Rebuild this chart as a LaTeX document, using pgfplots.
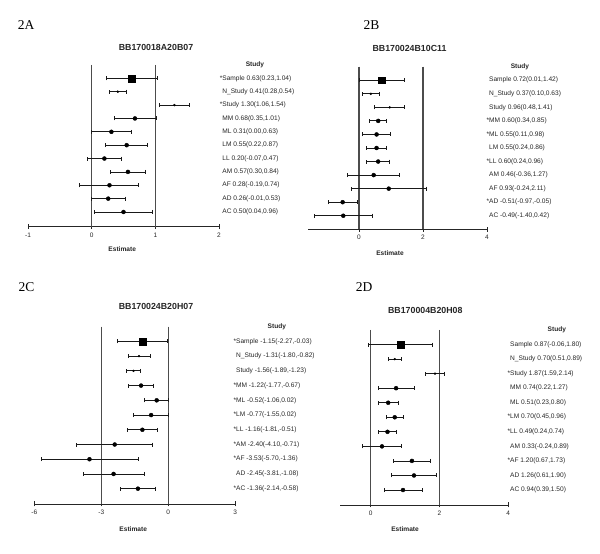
\documentclass[border=0pt]{standalone}
\usepackage{fontspec}
\setmainfont{Liberation Sans}
\newfontfamily\serifpanel{Liberation Serif}
\usepackage{pgfplots}
\usepackage{pgfplotstable}
\pgfplotsset{compat=1.18}

\newcommand\lab{\fontsize{6.6}{7.5}\selectfont}
\newcommand\ticklab{\fontsize{6.5}{7.5}\selectfont}
\newcommand\ttl{\fontsize{8.8}{10}\selectfont\bfseries}
\newcommand\pan{\serifpanel\fontsize{13.5}{15}\selectfont}

\pgfplotstableread{
row est lo hi
-1 0.63 0.23 1.04
-2 0.41 0.28 0.54
-3 1.30 1.06 1.54
-4 0.68 0.35 1.01
-5 0.31 0.00 0.63
-6 0.55 0.22 0.87
-7 0.20 -0.07 0.47
-8 0.57 0.30 0.84
-9 0.28 -0.19 0.74
-10 0.26 -0.01 0.53
-11 0.50 0.04 0.96
}\tA
\pgfplotstableread{
row est lo hi
-1 0.72 0.01 1.42
-2 0.37 0.10 0.63
-3 0.96 0.48 1.41
-4 0.60 0.34 0.85
-5 0.55 0.11 0.98
-6 0.55 0.24 0.86
-7 0.60 0.24 0.96
-8 0.46 -0.36 1.27
-9 0.93 -0.24 2.11
-10 -0.51 -0.97 -0.05
-11 -0.49 -1.40 0.42
}\tB
\pgfplotstableread{
row est lo hi
-1 -1.15 -2.27 -0.03
-2 -1.31 -1.80 -0.82
-3 -1.56 -1.89 -1.23
-4 -1.22 -1.77 -0.67
-5 -0.52 -1.06 0.02
-6 -0.77 -1.55 0.02
-7 -1.16 -1.81 -0.51
-8 -2.40 -4.10 -0.71
-9 -3.53 -5.70 -1.36
-10 -2.45 -3.81 -1.08
-11 -1.36 -2.14 -0.58
}\tC
\pgfplotstableread{
row est lo hi
-1 0.87 -0.06 1.80
-2 0.70 0.51 0.89
-3 1.87 1.59 2.14
-4 0.74 0.22 1.27
-5 0.51 0.23 0.80
-6 0.70 0.45 0.96
-7 0.49 0.24 0.74
-8 0.33 -0.24 0.89
-9 1.20 0.67 1.73
-10 1.26 0.61 1.90
-11 0.94 0.39 1.50
}\tD

\pgfplotsset{
  forest/.style={scale only axis, anchor=north west, clip=false,
    axis x line*=bottom, axis y line=none,
    x axis line style={-, line width=0.9pt, black!85},
    tick align=center, major tick length=5pt,
    xtick style={line width=0.8pt, black!85},
    ytick=\empty,
    xticklabel style={font=\ticklab, text=black!85},
    /pgf/number format/assume math mode=true, ymax=0},
  est/.style={only marks, black, mark=*, mark size=2pt,
    error bars/x dir=both, error bars/x explicit,
    error bars/error bar style={line width=0.8pt, black!90},
    error bars/error mark options={line width=0.8pt, mark size=2pt, black!90, rotate=90}},
  refl/.style={no marks, line width=1.1pt, black!70},
}
\tikzset{
  lab/.style={anchor=west, font=\lab, text=black!85, inner sep=0pt},
  hdr/.style={font=\lab\bfseries, text=black!85, inner sep=0pt},
}
\newcommand\forestplots[1]{%
  \addplot[est, mark=square*, mark size=3.4pt, restrict y to domain=-1.5:-0.5]
    table[x=est, y=row, x error plus expr=\thisrow{hi}-\thisrow{est}, x error minus expr=\thisrow{est}-\thisrow{lo}]{#1};
  \addplot[est, mark size=1pt, restrict y to domain=-3.5:-1.5]
    table[x=est, y=row, x error plus expr=\thisrow{hi}-\thisrow{est}, x error minus expr=\thisrow{est}-\thisrow{lo}]{#1};
  \addplot[est, restrict y to domain=-11.5:-3.5]
    table[x=est, y=row, x error plus expr=\thisrow{hi}-\thisrow{est}, x error minus expr=\thisrow{est}-\thisrow{lo}]{#1};
}

\begin{document}
\begin{tikzpicture}[x=1pt,y=1pt]
\useasboundingbox (0,0) rectangle (600,554);

% ---------- Panel A ----------
\node[font=\pan] at (26,529) {2A};
\node[font=\ttl, text=black!85] at (156,507) {BB170018A20B07};
\begin{axis}[forest, at={(28pt,489pt)}, width=191pt, height=161.7pt,
  xmin=-1, xmax=2, ymin=-12.1, xtick={-1,0,1,2}]
  \addplot[refl] coordinates {(0,0) (0,-12.1)};
  \addplot[refl] coordinates {(1,0) (1,-12.1)};
  \forestplots{\tA}
  \node[hdr] at (axis cs:2.565,0) {Study};
  \node[lab] at (axis cs:2.05,-1) {\llap{*}Sample 0.63(0.23,1.04)};
  \node[lab] at (axis cs:2.05,-2) {N\_Study 0.41(0.28,0.54)};
  \node[lab] at (axis cs:2.05,-3) {\llap{*}Study 1.30(1.06,1.54)};
  \node[lab] at (axis cs:2.05,-4) {MM 0.68(0.35,1.01)};
  \node[lab] at (axis cs:2.05,-5) {ML 0.31(0.00,0.63)};
  \node[lab] at (axis cs:2.05,-6) {LM 0.55(0.22,0.87)};
  \node[lab] at (axis cs:2.05,-7) {LL 0.20(-0.07,0.47)};
  \node[lab] at (axis cs:2.05,-8) {AM 0.57(0.30,0.84)};
  \node[lab] at (axis cs:2.05,-9) {AF 0.28(-0.19,0.74)};
  \node[lab] at (axis cs:2.05,-10) {AD 0.26(-0.01,0.53)};
  \node[lab] at (axis cs:2.05,-11) {AC 0.50(0.04,0.96)};
  \node[font=\lab\bfseries, text=black!85, yshift=-22pt] at (axis cs:0.48,-12.1) {Estimate};
\end{axis}

% ---------- Panel B ----------
\node[font=\pan] at (371.5,529) {2B};
\node[font=\ttl, text=black!85] at (409.5,505.7) {BB170024B10C11};
\begin{axis}[forest, at={(308.4pt,487.3pt)}, width=178.6pt, height=162.6pt,
  xmin=-1.58, xmax=4, ymin=-12, xtick={0,2,4}]
  \addplot[refl] coordinates {(0,0) (0,-12)};
  \addplot[refl] coordinates {(2,0) (2,-12)};
  \forestplots{\tB}
  \node[hdr] at (axis cs:5.03,0) {Study};
  \node[lab] at (axis cs:4.06,-1) {Sample 0.72(0.01,1.42)};
  \node[lab] at (axis cs:4.06,-2) {N\_Study 0.37(0.10,0.63)};
  \node[lab] at (axis cs:4.06,-3) {Study 0.96(0.48,1.41)};
  \node[lab] at (axis cs:4.06,-4) {\llap{*}MM 0.60(0.34,0.85)};
  \node[lab] at (axis cs:4.06,-5) {\llap{*}ML 0.55(0.11,0.98)};
  \node[lab] at (axis cs:4.06,-6) {LM 0.55(0.24,0.86)};
  \node[lab] at (axis cs:4.06,-7) {\llap{*}LL 0.60(0.24,0.96)};
  \node[lab] at (axis cs:4.06,-8) {AM 0.46(-0.36,1.27)};
  \node[lab] at (axis cs:4.06,-9) {AF 0.93(-0.24,2.11)};
  \node[lab] at (axis cs:4.06,-10) {\llap{*}AD -0.51(-0.97,-0.05)};
  \node[lab] at (axis cs:4.06,-11) {AC -0.49(-1.40,0.42)};
  \node[font=\lab\bfseries, text=black!85, yshift=-23.4pt] at (axis cs:0.97,-12) {Estimate};
\end{axis}

% ---------- Panel C ----------
\node[font=\pan] at (26.5,266.7) {2C};
\node[font=\ttl, text=black!85] at (156,247.3) {BB170024B20H07};
\begin{axis}[forest, at={(34.3pt,227.3pt)}, width=201pt, height=177.3pt,
  xmin=-6, xmax=3, ymin=-12.04, xtick={-6,-3,0,3}]
  \addplot[refl] coordinates {(-3,0) (-3,-12.04)};
  \addplot[refl] coordinates {(0,0) (0,-12.04)};
  \forestplots{\tC}
  \node[hdr] at (axis cs:4.86,0) {Study};
  \node[lab] at (axis cs:3.03,-1) {\llap{*}Sample -1.15(-2.27,-0.03)};
  \node[lab] at (axis cs:3.03,-2) {N\_Study -1.31(-1.80,-0.82)};
  \node[lab] at (axis cs:3.03,-3) {Study -1.56(-1.89,-1.23)};
  \node[lab] at (axis cs:3.03,-4) {\llap{*}MM -1.22(-1.77,-0.67)};
  \node[lab] at (axis cs:3.03,-5) {\llap{*}ML -0.52(-1.06,0.02)};
  \node[lab] at (axis cs:3.03,-6) {\llap{*}LM -0.77(-1.55,0.02)};
  \node[lab] at (axis cs:3.03,-7) {\llap{*}LL -1.16(-1.81,-0.51)};
  \node[lab] at (axis cs:3.03,-8) {\llap{*}AM -2.40(-4.10,-0.71)};
  \node[lab] at (axis cs:3.03,-9) {\llap{*}AF -3.53(-5.70,-1.36)};
  \node[lab] at (axis cs:3.03,-10) {AD -2.45(-3.81,-1.08)};
  \node[lab] at (axis cs:3.03,-11) {\llap{*}AC -1.36(-2.14,-0.58)};
  \node[font=\lab\bfseries, text=black!85, yshift=-24.7pt] at (axis cs:-1.57,-12.04) {Estimate};
\end{axis}

% ---------- Panel D ----------
\node[font=\pan] at (364,267.3) {2D};
\node[font=\ttl, text=black!85] at (425.3,244) {BB170004B20H08};
\begin{axis}[forest, at={(340pt,224pt)}, width=168.3pt, height=175pt,
  xmin=-0.89, xmax=4, ymin=-12.03, xtick={0,2,4}]
  \addplot[refl] coordinates {(0,0) (0,-12.03)};
  \addplot[refl] coordinates {(2,0) (2,-12.03)};
  \forestplots{\tD}
  \node[hdr] at (axis cs:5.41,0) {Study};
  \node[lab] at (axis cs:4.05,-1) {Sample 0.87(-0.06,1.80)};
  \node[lab] at (axis cs:4.05,-2) {N\_Study 0.70(0.51,0.89)};
  \node[lab] at (axis cs:4.05,-3) {\llap{*}Study 1.87(1.59,2.14)};
  \node[lab] at (axis cs:4.05,-4) {MM 0.74(0.22,1.27)};
  \node[lab] at (axis cs:4.05,-5) {ML 0.51(0.23,0.80)};
  \node[lab] at (axis cs:4.05,-6) {\llap{*}LM 0.70(0.45,0.96)};
  \node[lab] at (axis cs:4.05,-7) {\llap{*}LL 0.49(0.24,0.74)};
  \node[lab] at (axis cs:4.05,-8) {AM 0.33(-0.24,0.89)};
  \node[lab] at (axis cs:4.05,-9) {\llap{*}AF 1.20(0.67,1.73)};
  \node[lab] at (axis cs:4.05,-10) {AD 1.26(0.61,1.90)};
  \node[lab] at (axis cs:4.05,-11) {AC 0.94(0.39,1.50)};
  \node[font=\lab\bfseries, text=black!85, yshift=-24.3pt] at (axis cs:1.0,-12.03) {Estimate};
\end{axis}
\end{tikzpicture}
\end{document}
